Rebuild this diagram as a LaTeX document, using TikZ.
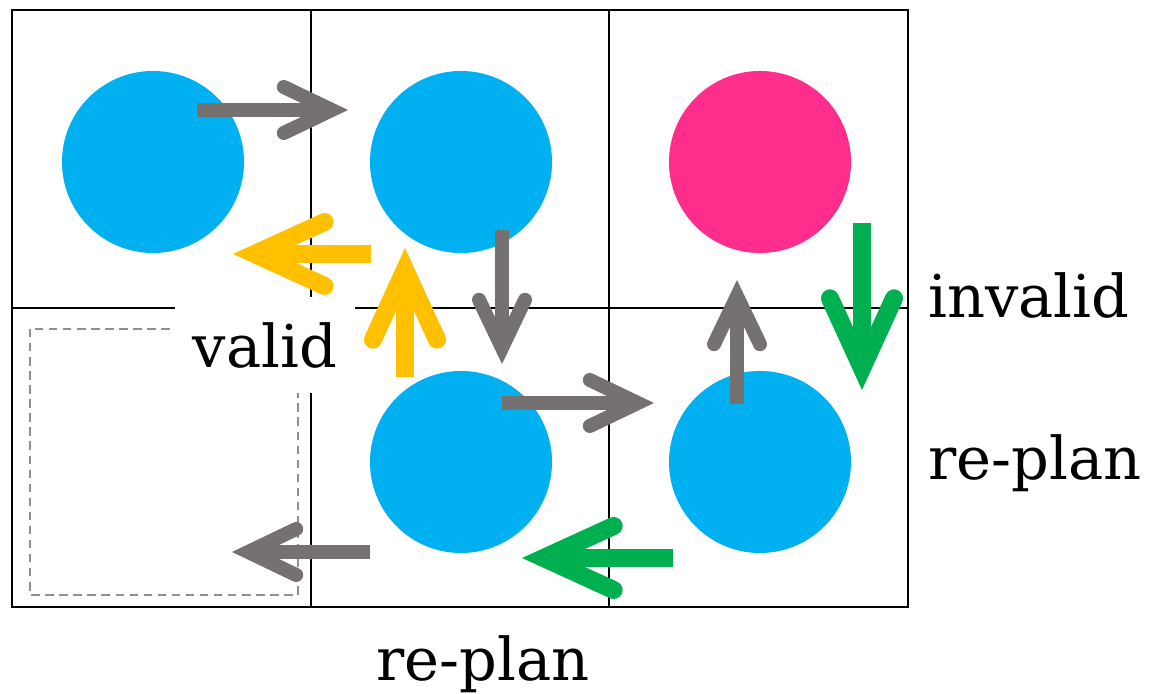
\documentclass[tikz,border=0pt]{standalone}
\usepackage{fontspec}
\setmainfont{DejaVu Serif}
\usetikzlibrary{arrows.meta}

\definecolor{robotblue}{HTML}{00B0F0}
\definecolor{goalpink}{HTML}{FF2D8C}
\definecolor{movegray}{HTML}{767171}
\definecolor{validyellow}{HTML}{FFC000}
\definecolor{replangreen}{HTML}{00B050}

\tikzset{
	robot/.style={circle, fill=robotblue, minimum size=4.55cm, inner sep=0},
	goal/.style={robot, fill=goalpink},
	move/.style={draw=movegray, line width=0.35cm,
		-{Straight Barb[length=1.2cm, width=1.15cm, line cap=round, line join=miter]}},
	bigmove/.style={move, line width=0.45cm,
		-{Straight Barb[length=1.75cm, width=1.6cm, line cap=round, line join=miter]}},
	label/.style={font=\fontsize{42}{48}\selectfont, inner sep=0},
}

\begin{document}
\begin{tikzpicture}[x=0.025cm, y=-0.025cm]
		\useasboundingbox (0,0) rectangle (1153,694);

		% grid of cells
		\draw[line width=1.4pt] (12,10) rectangle (908,607);
		\foreach \x in {311,609}{
			\draw[line width=1.4pt] (\x,10) -- (\x,607);
		}
		\draw[line width=1.4pt] (12,308) -- (908,308);

		% empty target cell
		\draw[movegray!80, line width=1.3pt, dash pattern=on 6pt off 4pt] (30,329) rectangle (298,595);

		\node[label, fill=white, minimum width=4.5cm, minimum height=2.4cm] (valid) at (265,345) {valid};

		% robots
		\node[robot] (a) at (153,162) {};
		\node[robot] (b) at (461,162) {};
		\node[goal] (c) at (760,162) {};
		\node[robot] (d) at (461,462) {};
		\node[robot] (e) at (760,462) {};

		% end points of the moves
		\coordinate (ab0) at (197,110);  \coordinate (ab1) at (348,110);
		\coordinate (bd0) at (502,230);  \coordinate (bd1) at (502,364);
		\coordinate (de0) at (502,403);  \coordinate (de1) at (654,403);
		\coordinate (ec0) at (737,404);  \coordinate (ec1) at (737,280);
		\coordinate (dl0) at (370,552);  \coordinate (dl1) at (232,552);
		\coordinate (ya0) at (371,254);  \coordinate (ya1) at (233,254);
		\coordinate (yb0) at (405,377);  \coordinate (yb1) at (405,248);
		\coordinate (gc0) at (862,223);  \coordinate (gc1) at (862,390);
		\coordinate (ge0) at (673,558);  \coordinate (ge1) at (522,558);

		\draw[move] (ab0) -- (ab1);
		\draw[move] (bd0) -- (bd1);
		\draw[move] (de0) -- (de1);
		\draw[move] (ec0) -- (ec1);
		\draw[move] (dl0) -- (dl1);

		\draw[bigmove, draw=validyellow] (ya0) -- (ya1);
		\draw[bigmove, draw=validyellow] (yb0) -- (yb1);
		\draw[bigmove, draw=replangreen] (gc0) -- (gc1);
		\draw[bigmove, draw=replangreen] (ge0) -- (ge1);

		\node[label, anchor=base west] (invalid) at (928,318) {invalid};
		\node[label, anchor=base west] (replan1) at (928,480) {re-plan};
		\node[label, anchor=base] (replan2) at (483,680) {re-plan};
	\end{tikzpicture}
\end{document}
